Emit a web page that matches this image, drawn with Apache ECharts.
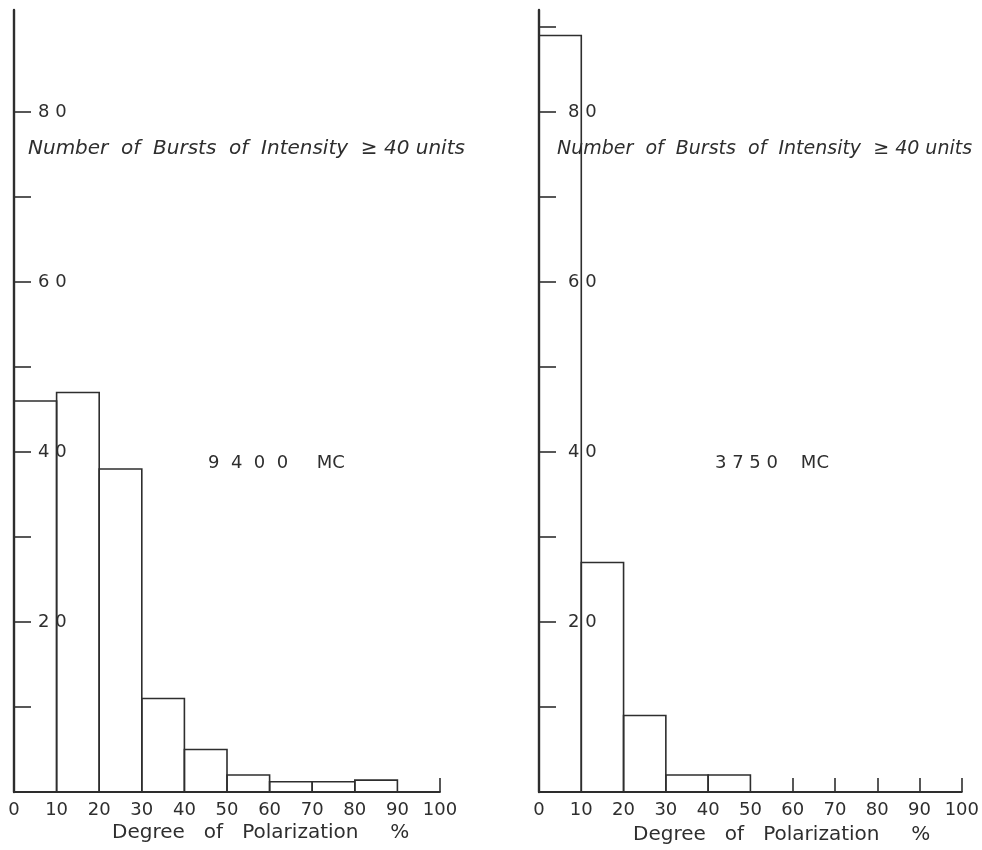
<!DOCTYPE html>
<html>
<head>
<meta charset="utf-8">
<script src="https://cdn.jsdelivr.net/npm/echarts@6/dist/echarts.min.js"></script>
<style>
  html, body { margin: 0; padding: 0; background: #fff; }
  #chart { width: 982px; height: 850px; }
</style>
</head>
<body>
<div id="chart"></div>
<script>
// bins of degree of polarization (%)
var binStarts = [0, 10, 20, 30, 40, 50, 60, 70, 80, 90];
var binWidth = 10;
// number of bursts
var counts9400 = [46, 47, 38, 11, 5, 2, 1.2, 1.2, 1.4, 0];
var counts3750 = [89, 27, 9, 2, 2, 0, 0, 0, 0, 0];
var yLabelValues = [20, 40, 60, 80];
var yTicksLeft = [10, 20, 30, 40, 50, 60, 70, 80];
var yTicksRight = [10, 20, 30, 40, 50, 60, 70, 80, 90];
var xTicksLeft = [100];
var xTicksRight = [60, 70, 80, 90, 100];

var ink = '#2e2e2e';
var handFont = '"DejaVu Sans", sans-serif';

var myChart = echarts.init(document.getElementById('chart'));

function toBins(counts) {
    return binStarts.map(function (s, i) {
        return [s, s + binWidth, counts[i]];
    });
}

function renderBin(params, api) {
    var v = api.value(2);
    if (!v) return;
    var p0 = api.coord([api.value(0), v]);
    var p1 = api.coord([api.value(1), 0]);
    return {
        type: 'rect',
        shape: { x: p0[0], y: p0[1], width: p1[0] - p0[0], height: p1[1] - p0[1] },
        style: { fill: 'none', stroke: ink, lineWidth: 1.6 }
    };
}

function spaced(v) {
    return String(v).split('').join(' ');
}

function makeX(idx, ticks) {
    return {
        type: 'value',
        gridIndex: idx,
        min: 0,
        max: 100,
        interval: 10,
        splitLine: { show: false },
        axisLine: { lineStyle: { color: ink, width: 1.8 } },
        axisTick: {
            inside: true,
            length: 14,
            customValues: ticks,
            lineStyle: { color: ink, width: 1.6 }
        },
        axisLabel: {
            margin: 9,
            color: ink,
            fontFamily: handFont,
            fontSize: 18
        }
    };
}

function makeY(idx, ticks, margin) {
    return {
        type: 'value',
        gridIndex: idx,
        min: 0,
        max: 92,
        interval: 10,
        splitLine: { show: false },
        axisLine: { lineStyle: { color: ink, width: 2.4 } },
        axisTick: {
            inside: true,
            length: 17,
            customValues: ticks,
            lineStyle: { color: ink, width: 1.6 }
        },
        axisLabel: {
            inside: true,
            margin: margin,
            customValues: yLabelValues,
            color: ink,
            fontFamily: handFont,
            fontSize: 18,
            formatter: function (v) { return spaced(v); }
        }
    };
}

function caption(x, y, text, size, italic) {
    return {
        type: 'text',
        left: x,
        top: y,
        style: {
            text: text,
            fill: ink,
            font: (italic ? 'italic ' : '') + size + 'px ' + handFont
        }
    };
}

var option = {
    backgroundColor: '#fff',
    animation: false,
    grid: [
        { left: 14, top: 10, width: 426, bottom: 58 },
        { left: 539, top: 10, width: 424, bottom: 58 }
    ],
    xAxis: [makeX(0, xTicksLeft), makeX(1, xTicksRight)],
    yAxis: [makeY(0, yTicksLeft, 24), makeY(1, yTicksRight, 29)],
    series: [
        {
            type: 'custom',
            name: '9400 MC',
            xAxisIndex: 0,
            yAxisIndex: 0,
            renderItem: renderBin,
            encode: { x: [0, 1], y: 2 },
            data: toBins(counts9400)
        },
        {
            type: 'custom',
            name: '3750 MC',
            xAxisIndex: 1,
            yAxisIndex: 1,
            renderItem: renderBin,
            encode: { x: [0, 1], y: 2 },
            data: toBins(counts3750)
        }
    ],
    graphic: [
        caption(28, 139, 'Number  of  Bursts  of  Intensity  \u2265 40 units', 20, true),
        caption(557, 140, 'Number  of  Bursts  of  Intensity  \u2265 40 units', 19, true),
        caption(208, 454, '9  4  0  0     MC', 18, false),
        caption(715, 454, '3 7 5 0    MC', 18, false),
        caption(112, 823, 'Degree   of   Polarization     %', 20, false),
        caption(633, 825, 'Degree   of   Polarization     %', 20, false)
    ]
};

myChart.setOption(option);
</script>
</body>
</html>
